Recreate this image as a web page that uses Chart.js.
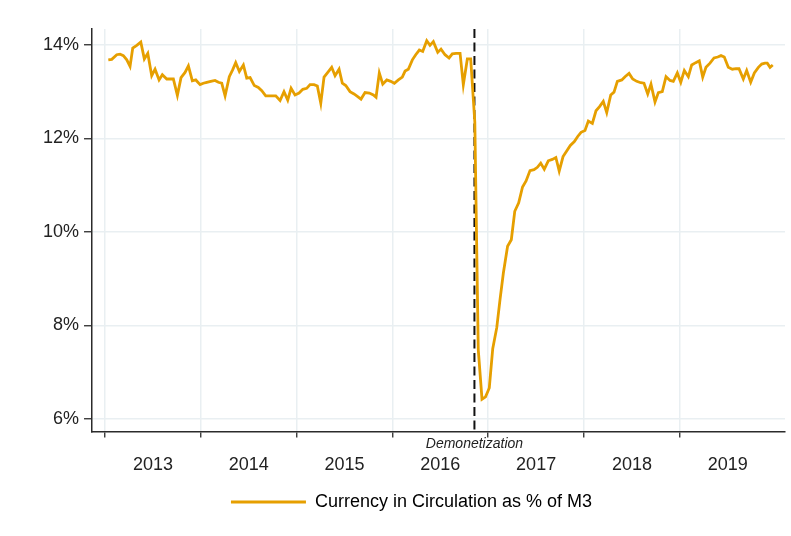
<!DOCTYPE html>
<html>
<head>
<meta charset="utf-8">
<script src="https://cdn.jsdelivr.net/npm/chart.js@4.4.1/dist/chart.umd.min.js"></script>
<style>
  html, body { margin: 0; padding: 0; background: #ffffff; }
  #wrap { width: 791px; height: 536px; position: relative; }
</style>
</head>
<body>
<div id="wrap"><canvas id="c" width="791" height="536"></canvas></div>
<script>
// Dates as decimal years, values in % of M3
const dates = [
  2013.034, 2013.070, 2013.122, 2013.157, 2013.191, 2013.227, 2013.261, 2013.289, 2013.331, 2013.373,
  2013.410, 2013.446, 2013.487, 2013.522, 2013.564, 2013.598, 2013.644, 2013.678, 2013.713, 2013.755,
  2013.793, 2013.835, 2013.870, 2013.911, 2013.947, 2013.992, 2014.026, 2014.062, 2014.103, 2014.148,
  2014.183, 2014.218, 2014.253, 2014.297, 2014.333, 2014.364, 2014.402, 2014.444, 2014.479, 2014.514,
  2014.558, 2014.600, 2014.636, 2014.677, 2014.722, 2014.752, 2014.782, 2014.827, 2014.868, 2014.907,
  2014.942, 2014.983, 2015.025, 2015.064, 2015.105, 2015.140, 2015.182, 2015.216, 2015.252, 2015.286,
  2015.325, 2015.366, 2015.401, 2015.443, 2015.477, 2015.513, 2015.557, 2015.599, 2015.634, 2015.672,
  2015.714, 2015.759, 2015.801, 2015.829, 2015.863, 2015.899, 2015.941, 2015.982, 2016.020, 2016.062,
  2016.103, 2016.132, 2016.166, 2016.208, 2016.243, 2016.281, 2016.316, 2016.358, 2016.392, 2016.427,
  2016.473, 2016.507, 2016.549, 2016.591, 2016.625, 2016.664, 2016.706, 2016.740, 2016.782, 2016.817,
  2016.860, 2016.896, 2016.935, 2016.972, 2017.011, 2017.047, 2017.089, 2017.123, 2017.158, 2017.202,
  2017.241, 2017.277, 2017.318, 2017.358, 2017.395, 2017.436, 2017.478, 2017.513, 2017.548, 2017.585,
  2017.627, 2017.669, 2017.706, 2017.741, 2017.781, 2017.819, 2017.857, 2017.899, 2017.934, 2017.969,
  2018.010, 2018.045, 2018.087, 2018.125, 2018.162, 2018.201, 2018.237, 2018.279, 2018.313, 2018.348,
  2018.394, 2018.428, 2018.470, 2018.508, 2018.550, 2018.592, 2018.626, 2018.665, 2018.699, 2018.741,
  2018.776, 2018.817, 2018.856, 2018.898, 2018.932, 2018.974, 2019.010, 2019.047, 2019.089, 2019.124,
  2019.166, 2019.203, 2019.239, 2019.273, 2019.315, 2019.357, 2019.396, 2019.430, 2019.464, 2019.506,
  2019.548, 2019.587, 2019.618, 2019.663, 2019.698, 2019.740, 2019.778, 2019.820, 2019.855, 2019.889,
  2019.913, 2019.942, 2019.970
];
const values = [
  13.68, 13.69, 13.79, 13.80, 13.77, 13.68, 13.54, 13.93, 13.99, 14.06,
  13.70, 13.82, 13.34, 13.48, 13.25, 13.36, 13.27, 13.27, 13.27, 12.92,
  13.30, 13.41, 13.55, 13.23, 13.25, 13.15, 13.18, 13.20, 13.22, 13.24,
  13.20, 13.18, 12.91, 13.32, 13.47, 13.62, 13.43, 13.57, 13.29, 13.30,
  13.13, 13.09, 13.02, 12.91, 12.91, 12.91, 12.91, 12.81, 13.00, 12.82,
  13.07, 12.93, 12.97, 13.05, 13.07, 13.15, 13.15, 13.12, 12.75, 13.31,
  13.41, 13.52, 13.34, 13.48, 13.18, 13.13, 13.00, 12.95, 12.90, 12.84,
  12.98, 12.97, 12.93, 12.88, 13.40, 13.16, 13.25, 13.22, 13.18, 13.25,
  13.31, 13.44, 13.48, 13.68, 13.79, 13.89, 13.86, 14.09, 13.99, 14.07,
  13.84, 13.91, 13.79, 13.72, 13.81, 13.82, 13.82, 13.15, 13.70, 13.70,
  12.35, 7.48, 6.42, 6.47, 6.66, 7.50, 7.95, 8.55, 9.12, 9.69,
  9.83, 10.44, 10.62, 10.96, 11.09, 11.31, 11.33, 11.38, 11.47, 11.34,
  11.52, 11.55, 11.59, 11.30, 11.61, 11.73, 11.85, 11.93, 12.04, 12.13,
  12.17, 12.37, 12.32, 12.59, 12.68, 12.79, 12.55, 12.93, 12.99, 13.22,
  13.25, 13.32, 13.39, 13.27, 13.22, 13.19, 13.18, 12.95, 13.16, 12.78,
  12.98, 13.00, 13.32, 13.24, 13.22, 13.40, 13.20, 13.45, 13.32, 13.57,
  13.62, 13.66, 13.31, 13.52, 13.61, 13.72, 13.74, 13.77, 13.74, 13.52,
  13.48, 13.49, 13.49, 13.27, 13.45, 13.20, 13.40, 13.52, 13.59, 13.61,
  13.61, 13.52, 13.57
];
const yearTicks = [2013, 2014, 2015, 2016, 2017, 2018, 2019];
const yearLabels = ['2013', '2014', '2015', '2016', '2017', '2018', '2019'];
const yTicks = [6, 8, 10, 12, 14];
const eventDate = 2016.856;
const eventLabel = 'Demonetization';
const seriesLabel = 'Currency in Circulation as % of M3';

const lineColor = '#E69F00';
const gridColor = '#E9EFF2';
const axisColor = '#2b2b2b';
const FONT = "'Liberation Sans', Arial, Helvetica, sans-serif";

const eventPlugin = {
  id: 'eventLine',
  beforeDatasetsDraw(chart) {
    const { ctx, chartArea, scales } = chart;
    const x = scales.x.getPixelForValue(eventDate);
    ctx.save();
    ctx.strokeStyle = '#111';
    ctx.lineWidth = 2;
    ctx.setLineDash([9, 4.5]);
    ctx.beginPath();
    ctx.moveTo(x, chartArea.top);
    ctx.lineTo(x, chartArea.bottom);
    ctx.stroke();
    ctx.restore();
  },
  afterDraw(chart) {
    const { ctx, chartArea, scales } = chart;
    const x = scales.x.getPixelForValue(eventDate);
    ctx.save();
    ctx.fillStyle = '#222';
    ctx.font = 'italic 14px ' + FONT;
    ctx.textAlign = 'center';
    ctx.textBaseline = 'middle';
    ctx.fillText(eventLabel, x, chartArea.bottom + 13);
    ctx.restore();
  }
};

new Chart(document.getElementById('c'), {
  type: 'line',
  data: {
    datasets: [{
      label: seriesLabel,
      data: dates.map((d, i) => ({ x: d, y: values[i] })),
      borderColor: lineColor,
      backgroundColor: lineColor,
      borderWidth: 2.8,
      pointRadius: 0,
      tension: 0,
      fill: false
    }]
  },
  options: {
    responsive: false,
    animation: false,
    layout: { padding: { left: 38, right: 6, top: 29, bottom: 15 } },
    plugins: {
      tooltip: { enabled: false },
      legend: {
        position: 'bottom',
        labels: {
          font: { family: FONT, size: 18 },
          color: '#222',
          boxWidth: 75,
          boxHeight: 3,
          padding: 0,
          generateLabels: () => [{
            text: seriesLabel, fillStyle: lineColor, strokeStyle: lineColor,
            lineWidth: 0, hidden: false, datasetIndex: 0
          }]
        }
      }
    },
    scales: {
      x: {
        type: 'linear',
        min: 2012.864,
        max: 2020.098,
        afterBuildTicks(scale) {
          const t = [];
          yearTicks.forEach(y => { t.push({ value: y }); t.push({ value: y + 0.5 }); });
          scale.ticks = t;
        },
        ticks: {
          autoSkip: false,
          maxRotation: 0,
          minRotation: 0,
          padding: 17,
          color: '#222',
          font: { family: FONT, size: 18 },
          callback: (v) => Number.isInteger(v) ? '' : yearLabels[yearTicks.indexOf(Math.floor(v))]
        },
        grid: {
          color: (c) => (c.tick && Number.isInteger(c.tick.value)) ? gridColor : 'rgba(0,0,0,0)',
          tickColor: (c) => (c.tick && Number.isInteger(c.tick.value)) ? axisColor : 'rgba(0,0,0,0)',
          lineWidth: 1.5,
          tickWidth: 1.3,
          tickLength: 6,
          drawTicks: true
        },
        border: { display: true, color: axisColor, width: 1.5 }
      },
      y: {
        min: 5.73,
        max: 14.34,
        afterBuildTicks(scale) { scale.ticks = yTicks.map(v => ({ value: v })); },
        ticks: {
          padding: 5,
          color: '#222',
          font: { family: FONT, size: 18 },
          callback: (v) => v + '%'
        },
        grid: {
          color: gridColor,
          lineWidth: 1.5,
          tickColor: axisColor,
          tickWidth: 1.3,
          tickLength: 8
        },
        border: { display: true, color: axisColor, width: 1.5 }
      }
    }
  },
  plugins: [eventPlugin]
});
</script>
</body>
</html>
